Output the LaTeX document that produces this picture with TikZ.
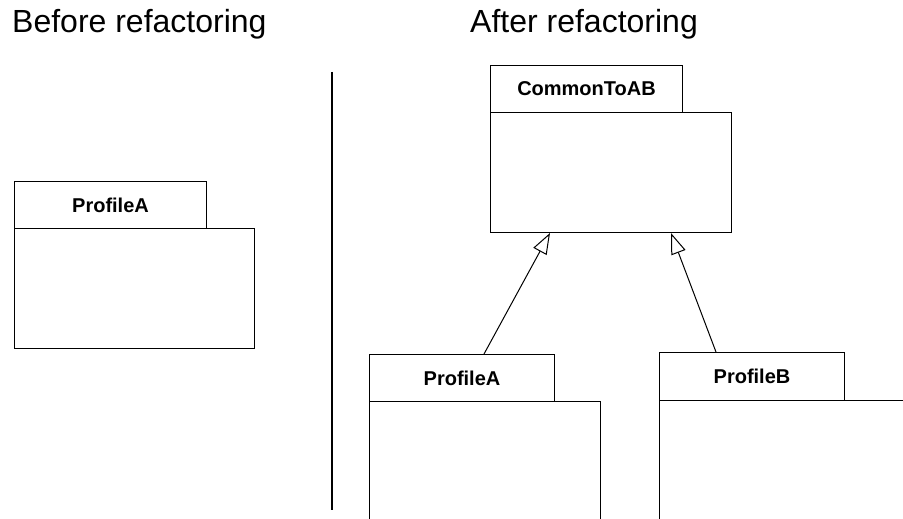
\documentclass[tikz,border=0pt]{standalone}
\usepackage{fontspec}
\setmainfont{Liberation Sans}
\usetikzlibrary{arrows.meta}
\begin{document}
\begin{tikzpicture}[x=1pt,y=-1pt,
  tab/.style={draw, line width=1pt, anchor=north west, inner sep=0pt,
    font=\fontsize{20}{24}\selectfont\bfseries},
  body/.style={draw, line width=1pt, anchor=north west, inner sep=0pt},
  title/.style={anchor=base west, inner sep=0pt, font=\fontsize{32}{38}\selectfont},
  inherits/.style={line width=1pt, -{Triangle[open, length=21pt, width=15pt]}}]
\useasboundingbox (0,0) rectangle (903,519);
\clip (0,0) rectangle (903,519);

% headings
\node[title] (before) at (12,33) {Before refactoring};
\node[title] (after) at (470,33) {After refactoring};

% separator between the two halves
\coordinate (septop) at (332,72);
\coordinate (sepbot) at (332,510);
\draw[line width=1.3pt] (septop) -- (sepbot);

% before: single package
\node[tab, minimum width=192pt, minimum height=47pt] (patab) at (14,181) {ProfileA};
\node[body, minimum width=240pt, minimum height=119.5pt] (pabody) at (14,228) {};

% after: common package
\node[tab, minimum width=192pt, minimum height=47pt] (cttab) at (490,65) {CommonToAB};
\node[body, minimum width=240.5pt, minimum height=120pt] (ctbody) at (490,112) {};

% after: specialised packages
\node[tab, minimum width=185pt, minimum height=47pt] (pa2tab) at (369,354) {ProfileA};
\node[body, minimum width=231pt, minimum height=140pt] (pa2body) at (369,401) {};

\node[tab, minimum width=185pt, minimum height=48pt] (pbtab) at (659,352) {ProfileB};
\node[body, minimum width=300pt, minimum height=140pt] (pbbody) at (659,400) {};

% generalisation arrows
\draw[inherits] ([xshift=115pt]pa2tab.north west) -- ([xshift=60pt]ctbody.south west);
\draw[inherits] ([xshift=57pt]pbtab.north west) -- ([xshift=181pt]ctbody.south west);
\end{tikzpicture}
\end{document}
